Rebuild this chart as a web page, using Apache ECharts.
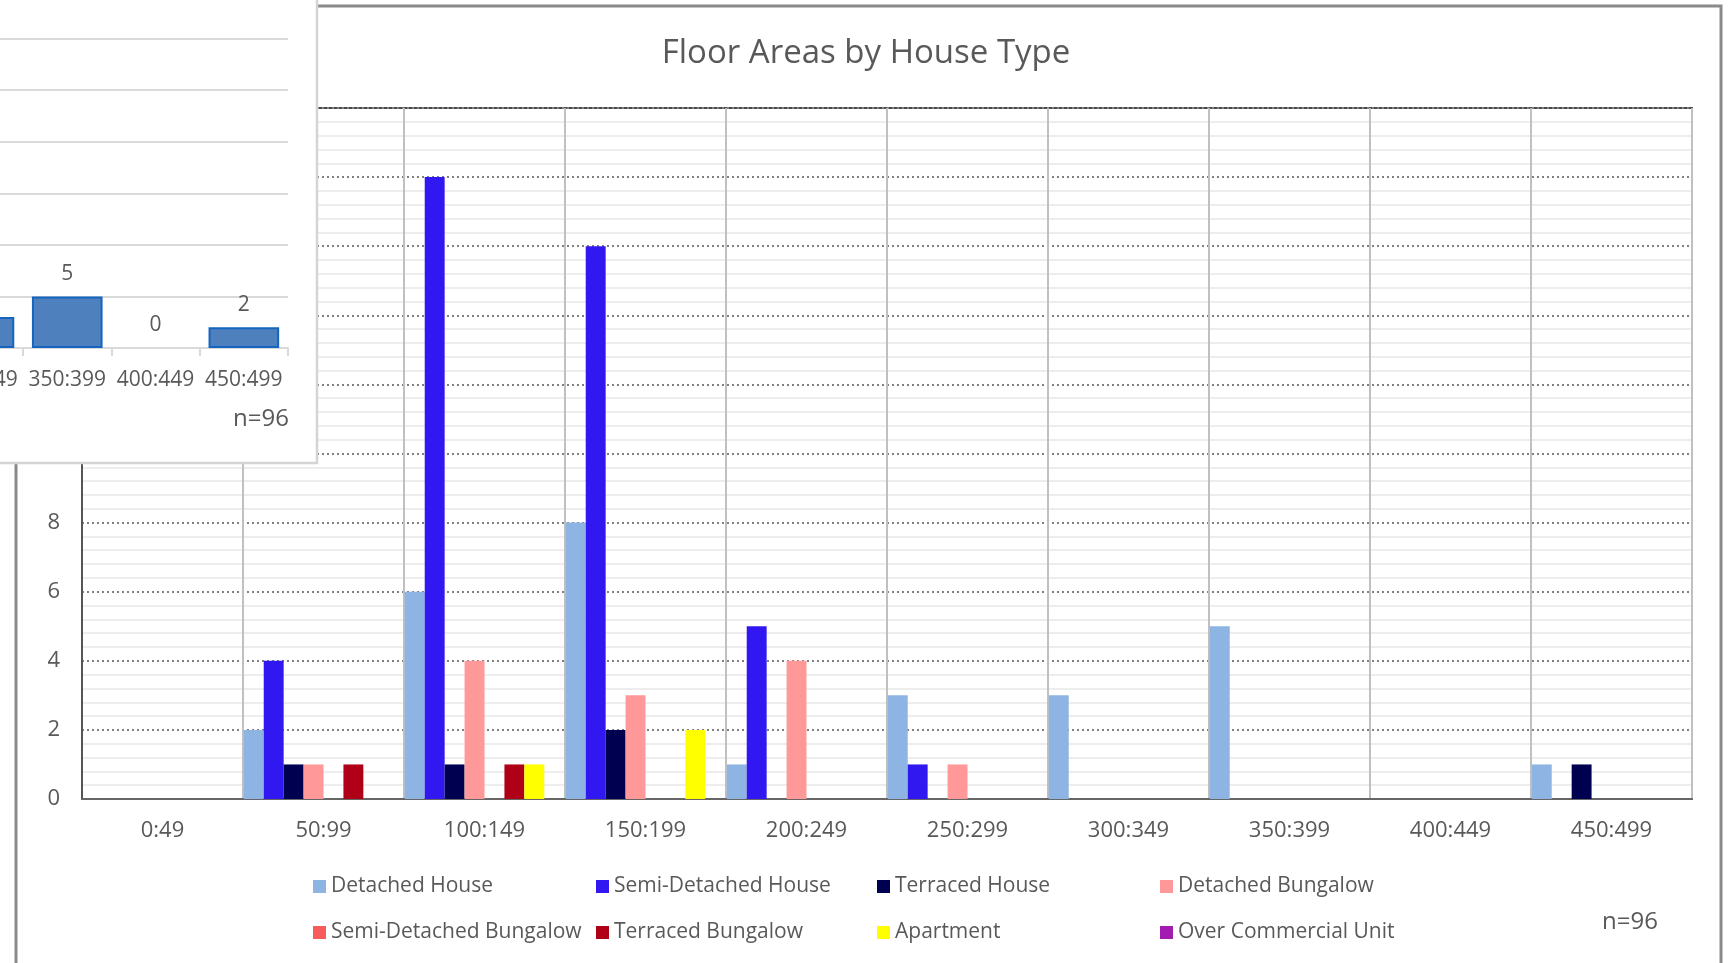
<!DOCTYPE html>
<html>
<head>
<meta charset="utf-8">
<title>Floor Areas by House Type</title>
<script src="https://cdn.jsdelivr.net/npm/echarts@6/dist/echarts.min.js"></script>
<style>
html, body {
    margin: 0;
    padding: 0;
    background: #fff;
}
#main {
    width: 1732px;
    height: 963px;
}
</style>
</head>
<body>
<div id="main"></div>
<script>
// floor area bands (m2)
var categories = ['0:49', '50:99', '100:149', '150:199', '200:249', '250:299', '300:349', '350:399', '400:449', '450:499'];

// counts per house type
var detachedHouse        = [0, 2, 6, 8, 1, 3, 3, 5, 0, 1];
var semiDetachedHouse    = [0, 4, 18, 16, 5, 1, 0, 0, 0, 0];
var terracedHouse        = [0, 1, 1, 2, 0, 0, 0, 0, 0, 1];
var detachedBungalow     = [0, 1, 4, 3, 4, 1, 0, 0, 0, 0];
var semiDetachedBungalow = [0, 0, 0, 0, 0, 0, 0, 0, 0, 0];
var terracedBungalow     = [0, 1, 1, 0, 0, 0, 0, 0, 0, 0];
var apartment            = [0, 0, 1, 2, 0, 0, 0, 0, 0, 0];
var overCommercialUnit   = [0, 0, 0, 0, 0, 0, 0, 0, 0, 0];

// totals shown by the chart lying on top (top left)
var totals = [0, 9, 31, 31, 10, 5, 3, 5, 0, 2];

var yTicks = [0, 20, 2];       // min, max, step of main chart
var totalTicks = [0, 35, 5];   // min, max, step of the small chart

var seriesNames = ['Detached House', 'Semi-Detached House', 'Terraced House', 'Detached Bungalow',
                   'Semi-Detached Bungalow', 'Terraced Bungalow', 'Apartment', 'Over Commercial Unit'];
var seriesData = [detachedHouse, semiDetachedHouse, terracedHouse, detachedBungalow,
                  semiDetachedBungalow, terracedBungalow, apartment, overCommercialUnit];
var seriesColors = ['#8DB4E2', '#3118F0', '#000050', '#FF9999', '#F75B5B', '#B00018', '#FFFF00', '#A21CAF'];

var font = 'Open Sans';
var grey = '#595959';

var series = [];
var legends = [];
var legendCols = [313, 596, 877, 1160];
var legendRows = [888, 934];

for (var i = 0; i < seriesNames.length; i++) {
    series.push({
        name: seriesNames[i],
        type: 'bar',
        xAxisIndex: 0,
        yAxisIndex: 0,
        data: seriesData[i],
        barGap: 0,
        barCategoryGap: '1%',
        itemStyle: { color: seriesColors[i] },
        z: 2
    });
    legends.push({
        data: [seriesNames[i]],
        left: legendCols[i % 4],
        top: legendRows[Math.floor(i / 4)] - 12,
        padding: 0,
        icon: 'rect',
        itemWidth: 13,
        itemHeight: 13,
        selectedMode: false,
        textStyle: { fontFamily: font, fontSize: 21, color: grey }
    });
}

// the small totals chart, partly off screen
// (no outline on empty bars, as in the original)
var totalItems = totals.map(function (v) {
    return v === 0 ? { value: v, itemStyle: { borderWidth: 0 } } : v;
});
series.push({
    name: 'Total',
    type: 'bar',
    xAxisIndex: 1,
    yAxisIndex: 1,
    data: totalItems,
    barCategoryGap: '20%',
    itemStyle: { color: '#4E80BD', borderColor: '#1565C0', borderWidth: 2 },
    label: {
        show: true,
        position: 'top',
        distance: 12,
        fontFamily: font,
        fontSize: 21,
        color: grey
    },
    z: 12
});

var chart = echarts.init(document.getElementById('main'));

var option = {
    animation: false,
    title: {
        text: 'Floor Areas by House Type',
        left: 'center',
        top: 37,
        padding: 0,
        textStyle: { fontFamily: font, fontSize: 33, fontWeight: 'normal', color: grey }
    },
    legend: legends,
    grid: [
        {
            left: 82, right: 40, top: 108, bottom: 164,
            show: true, borderColor: '#4a4a4a', borderWidth: 2
        },
        {
            left: -595, right: 1444, top: -13, bottom: 615,
            outerBoundsMode: 'none'
        }
    ],
    xAxis: [
        {
            type: 'category',
            gridIndex: 0,
            data: categories,
            axisLine: { lineStyle: { color: '#666', width: 2 } },
            axisTick: { show: false },
            axisLabel: { interval: 0, margin: 21, fontFamily: font, fontSize: 22, color: grey },
            splitLine: { show: true, interval: 0, lineStyle: { color: '#c0c0c0', width: 2 } }
        },
        {
            type: 'category',
            gridIndex: 1,
            data: categories,
            z: 11,
            axisLine: { lineStyle: { color: '#d9d9d9', width: 2 } },
            axisTick: { show: true, length: 8, lineStyle: { color: '#d9d9d9', width: 2 } },
            axisLabel: { interval: 0, margin: 22, fontFamily: font, fontSize: 21, color: grey }
        }
    ],
    yAxis: [
        {
            type: 'value',
            gridIndex: 0,
            min: yTicks[0],
            max: yTicks[1],
            interval: yTicks[2],
            axisLine: { show: true, lineStyle: { color: '#555', width: 2 } },
            axisTick: { show: false },
            axisLabel: { margin: 22, fontFamily: font, fontSize: 22, color: grey },
            splitLine: { lineStyle: { color: '#808080', width: 2, type: [2, 3] } },
            minorTick: { show: false, splitNumber: 5 },
            minorSplitLine: { show: true, lineStyle: { color: '#e8e8e8', width: 1.5 } }
        },
        {
            type: 'value',
            gridIndex: 1,
            min: totalTicks[0],
            max: totalTicks[1],
            interval: totalTicks[2],
            z: 11,
            axisLine: { show: false },
            axisTick: { show: false },
            axisLabel: { show: false },
            splitLine: { lineStyle: { color: '#d9d9d9', width: 2 } }
        }
    ],
    graphic: [
        {
            // outer chart area border
            type: 'rect',
            z: 1,
            shape: { x: 16, y: 6, width: 1705, height: 1000 },
            style: { fill: null, stroke: '#8a8a8a', lineWidth: 3 }
        },
        {
            type: 'text',
            z: 3,
            left: 1602,
            top: 910,
            style: { text: 'n=96', fontFamily: font, fontSize: 24, fill: grey }
        },
        {
            // panel of the chart lying on top
            type: 'rect',
            z: 10,
            shape: { x: -10, y: -10, width: 327, height: 473 },
            style: { fill: '#fff', stroke: '#d4d4d4', lineWidth: 2.5 }
        },
        {
            type: 'text',
            z: 12,
            left: 233,
            top: 407,
            style: { text: 'n=96', fontFamily: font, fontSize: 24, fill: grey }
        }
    ],
    series: series
};

chart.setOption(option);
</script>
</body>
</html>
